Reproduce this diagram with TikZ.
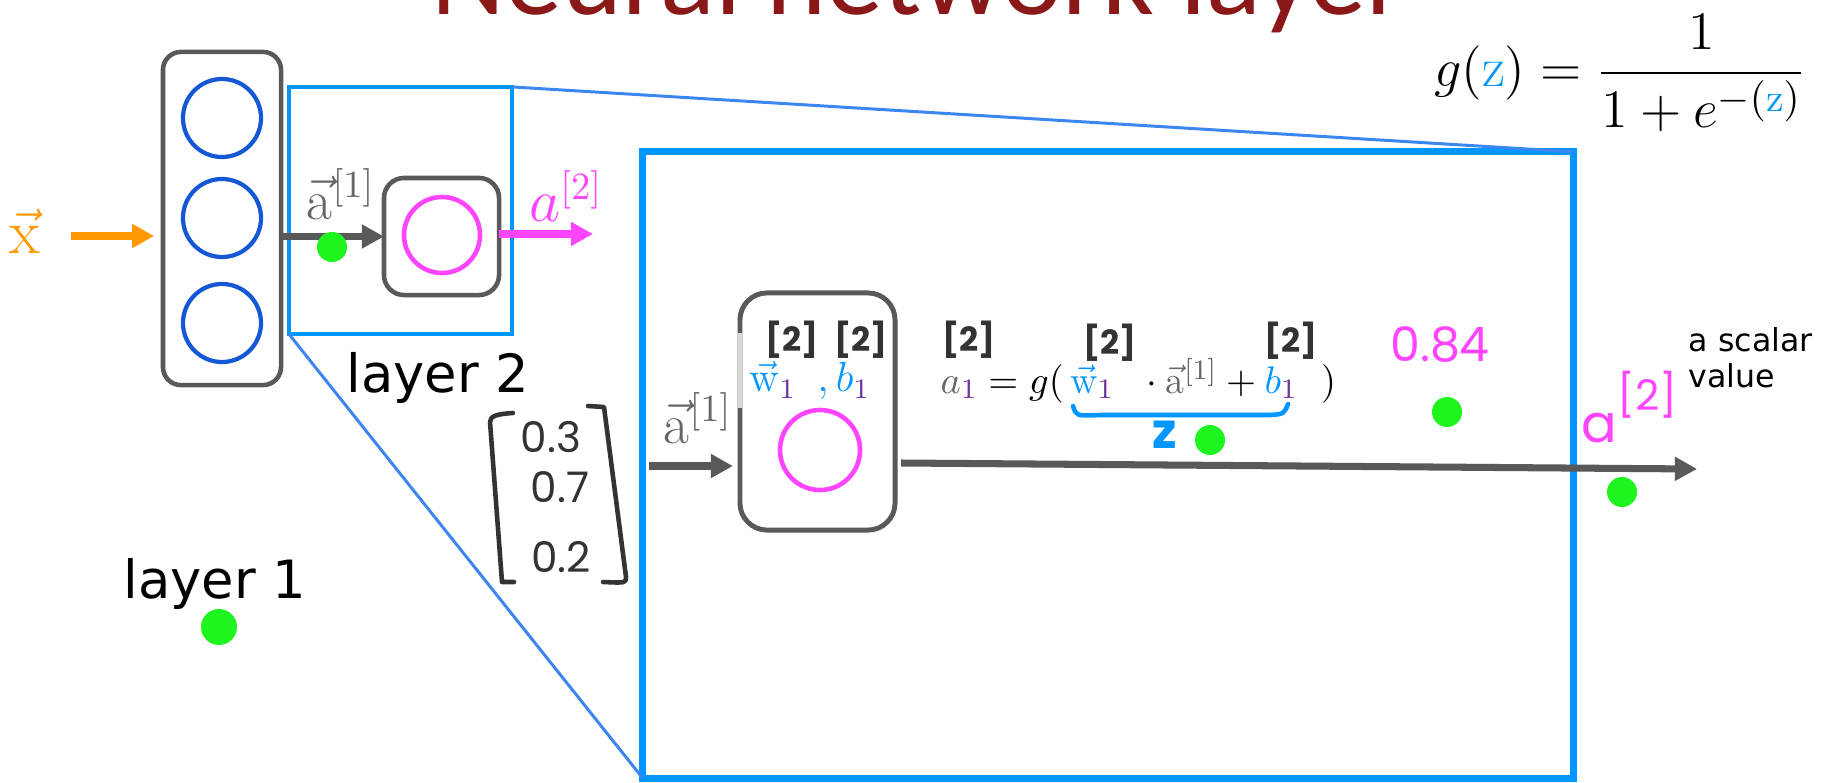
\documentclass[tikz,border=0pt]{standalone}
\usepackage{amsmath}
\usepackage{fontspec}
\newfontfamily\titlefont{Carlito}
\newfontfamily\labelfont{DejaVu Sans}
\newfontfamily\handfont{Poppins}
\usepackage{xcolor}
\usepackage{tikz}
\usetikzlibrary{positioning, arrows.meta, calc}
\definecolor{boxgray}{HTML}{595959}
\definecolor{unitblue}{HTML}{1558D6}
\definecolor{zoomblue}{HTML}{0096FF}
\definecolor{linkblue}{HTML}{3C86F2}
\definecolor{actpink}{HTML}{FF45FF}
\definecolor{inorange}{HTML}{FF9900}
\definecolor{dotgreen}{HTML}{1EF51E}
\definecolor{titlered}{HTML}{8B1818}
\definecolor{subpurple}{HTML}{7030A0}
\definecolor{handblack}{HTML}{333333}
\definecolor{agray}{HTML}{666666}
\tikzset{
    layerbox/.style={
        draw=boxgray,
        line width=1.3pt,
        inner sep=0pt,
        outer sep=0pt
    },
    unit/.style={
        circle,
        draw=unitblue,
        line width=1.2pt,
        minimum size=0.78cm,
        inner sep=0pt
    },
    actunit/.style={
        circle,
        draw=actpink,
        line width=1.3pt,
        inner sep=0pt
    },
    zoomframe/.style={
        draw=zoomblue,
        inner sep=0pt,
        outer sep=0pt
    },
    zoomlink/.style={
        draw=linkblue,
        line width=0.85pt
    },
    flow/.style={
        line width=2pt,
        -{Triangle[length=6.3pt,width=6.5pt]}
    },
    greendot/.style={
        circle,
        fill=dotgreen,
        inner sep=0pt,
        minimum size=0.3cm
    },
    handline/.style={
        draw=handblack,
        line width=1.3pt,
        line cap=round,
        line join=round
    },
    handmark/.style={
        text=handblack,
        font=\handfont\bfseries\fontsize{9.5}{10}\selectfont,
        inner sep=0pt
    },
    layername/.style={
        font=\labelfont\fontsize{15}{18}\selectfont,
        anchor=base,
        inner sep=0pt
    }
}

\begin{document}
\begin{tikzpicture}[x=0.01cm, y=-0.01cm]
\useasboundingbox (0,0) rectangle (1822,782);

%---------------- Title ----------------

\node[anchor=base, inner sep=0pt, text=titlered, font=\titlefont\fontsize{32.5}{36}\selectfont] (title) at (919,15) {Neural network layer};

%---------------- Zoom frames ----------------

\node[zoomframe, line width=1.3pt, minimum width=2.23cm, minimum height=2.47cm] (zsmall) at (400.5,210.5) {};
\node[zoomframe, line width=2pt, minimum width=9.3cm, minimum height=6.26cm] (zbig) at (1108,465) {};

\draw[zoomlink] (zsmall.north east) -- (zbig.north east);
\draw[zoomlink] (zsmall.south west) -- (zbig.south west);

%---------------- Layer 1 ----------------

\node[layerbox, rounded corners=0.18cm, minimum width=1.18cm, minimum height=3.33cm] (l1box) at (222,218.5) {};
\node[unit] (u1) at (222,118) {};
\node[unit] (u2) at (222,218) {};
\node[unit] (u3) at (222,323) {};

\node[text=inorange, font=\fontsize{18}{20}\selectfont] (xin) at (25,231) {$\vec{\mathrm{x}}$};
\coordinate (xstart) at (71,236);
\draw[flow, inorange, line width=2.2pt, shorten >=2.5pt] (xstart) -- (xstart -| l1box.west);

\node[layername] (l1name) at (215,598) {layer 1};

%---------------- Layer 2 ----------------

\node[layerbox, rounded corners=0.2cm, minimum width=1.15cm, minimum height=1.17cm] (l2box) at (441.5,236.5) {};
\node[actunit, minimum size=0.76cm] (l2unit) at (442,235) {};

\draw[flow, boxgray] (l1box.east |- l2box.west) -- (l2box.west);
\node[text=agray, font=\fontsize{16}{18}\selectfont] (a1top) at (341,194) {$\vec{\mathrm{a}}^{[1]}$};

\coordinate (a2end) at (593,234);
\draw[flow, actpink] (l2box.east |- a2end) -- (a2end);
\node[text=actpink, font=\fontsize{16}{18}\selectfont] (a2top) at (566,196) {$a^{[2]}$};

\node[layername] (l2name) at (438,392) {layer 2};

%---------------- Input vector ----------------

\draw[handline] (513,413) .. controls (497,414) and (490,416) .. (490,422) -- (502,582) -- (514,582);
\draw[handline] (588,406) -- (604,407) -- (626,577) .. controls (626,583) .. (603,582);
\node[text=handblack, font=\handfont\fontsize{12}{14}\selectfont] (v1) at (551,437) {0.3};
\node[text=handblack, font=\handfont\fontsize{12}{14}\selectfont] (v2) at (560,487) {0.7};
\node[text=handblack, font=\handfont\fontsize{12}{14}\selectfont] (v3) at (561,557) {0.2};

%---------------- Unit in detail ----------------

\node[layerbox, line width=1.4pt, rounded corners=0.27cm, minimum width=1.55cm, minimum height=2.37cm] (nbox) at (817.5,411.5) {};
\draw[line width=1.4pt, draw=black!15] ($(nbox.west)+(0,-78.5)$) -- ($(nbox.west)+(0,-3.5)$);
\node[actunit, minimum size=0.8cm] (nunit) at (820,450) {};

\node[text=agray, font=\fontsize{16}{18}\selectfont] (a1in) at (698,418) {$\vec{\mathrm{a}}^{[1]}$};
\coordinate (instart) at (649,466);
\draw[flow, boxgray, shorten >=2pt] (instart) -- (instart -| nbox.west);

\coordinate (outend) at (1697,469);
\draw[flow, boxgray] ($(nbox.east)+(6,51.5)$) -- (outend);

\node[font=\fontsize{12}{14}\selectfont] (wb) at (810,381) {$\color{zoomblue}\vec{\mathrm{w}}_{\color{subpurple}1}\hspace{0.5em},b_{\color{subpurple}1}$};
\node[handmark] (w2) at (792,340) {[2]};
\node[handmark] (b2) at (861,340) {[2]};

%---------------- Activation formula ----------------

\node[anchor=base west, inner sep=0pt, font=\fontsize{11}{14}\selectfont] (eqa) at (940,393) {${\color{agray}a}_{\color{subpurple}1} = g(\,{\color{zoomblue}\vec{\mathrm{w}}}_{\color{subpurple}1}\hspace{0.6em}\cdot{\color{agray}\vec{\mathrm{a}}^{[1]}} + {\color{zoomblue}b}_{\color{subpurple}1}\hspace{0.6em})$};
\node[handmark] (a2m) at (969,340) {[2]};
\node[handmark] (w2m) at (1110,343) {[2]};
\node[handmark] (b2m) at (1291,341) {[2]};

\draw[handline, draw=zoomblue] (1073,406) .. controls (1076,416) .. (1100,415) -- (1270,415) .. controls (1284,414) .. (1288,404);
\node[text=zoomblue, font=\handfont\bfseries\fontsize{14}{14}\selectfont] (zlbl) at (1165,435) {z};

\node[text=actpink, font=\handfont\fontsize{13.5}{14}\selectfont] (val) at (1440,345) {0.84};

\node[anchor=base west, inner sep=0pt, text=actpink, font=\handfont\fontsize{15}{15}\selectfont] (aout) at (1581,442) {a\raisebox{0.6em}{\fontsize{12}{12}\selectfont[2]}};
\node[anchor=base west, inner sep=0pt, align=left, font=\labelfont\fontsize{9}{10.2}\selectfont] (scalar) at (1688,387) {a scalar\\value};

\node[font=\fontsize{15}{18}\selectfont] (gz) at (1620,73) {\scalebox{1.07}{$g({\color{zoomblue}\mathrm{z}}) = \dfrac{1}{1+e^{-({\color{zoomblue}\mathrm{z}})}}$}};

%---------------- Marks ----------------

\node[greendot, minimum size=0.36cm] (dot0) at (219,627) {};
\node[greendot] (dot1) at (332,247) {};
\node[greendot] (dot2) at (1210,440) {};
\node[greendot] (dot3) at (1447,412) {};
\node[greendot] (dot4) at (1622,492) {};

\end{tikzpicture}
\end{document}
